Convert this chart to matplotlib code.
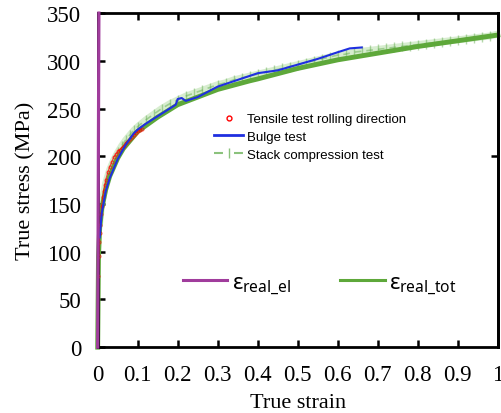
import matplotlib
matplotlib.use('Agg')
import matplotlib.pyplot as plt
from matplotlib.lines import Line2D

plt.rcParams['font.family'] = ['Liberation Serif', 'DejaVu Serif']
plt.rcParams['mathtext.fontset'] = 'custom'
plt.rcParams['mathtext.rm'] = 'Noto Sans'
plt.rcParams['mathtext.it'] = 'Noto Sans'

# elastic line
el_strain = [0, 0.003]
el_stress = [0, 350]

# total true stress-strain fit
tot_strain = [0, 0.002, 0.005, 0.01, 0.02, 0.03, 0.05, 0.064, 0.1, 0.15, 0.2, 0.25, 0.3,
              0.38, 0.4, 0.5, 0.6, 0.7, 0.8, 0.9, 1.0]
tot_stress = [0, 95, 125, 145, 165, 179, 198, 208, 226, 241, 254, 262, 270,
              279, 281, 292, 301, 308, 315, 321, 327]

# tensile test rolling direction
ten_strain = [0.002, 0.003, 0.004, 0.005, 0.006, 0.008, 0.01, 0.0125, 0.015, 0.0175, 0.02,
              0.025, 0.03, 0.035, 0.04, 0.045, 0.05, 0.055, 0.06, 0.065, 0.07, 0.075,
              0.08, 0.085, 0.09, 0.095, 0.1, 0.105, 0.11]
ten_stress = [75, 95, 110, 120, 128, 140, 148, 157, 164, 170, 175, 183, 189, 194, 199,
              202, 205, 207, 209, 211, 214, 216, 218, 220, 222, 224, 226, 227, 229]

# bulge test
bul_strain = [0.005, 0.01, 0.02, 0.03, 0.05, 0.07, 0.09, 0.1, 0.12, 0.15, 0.18, 0.195,
              0.2, 0.21, 0.22, 0.25, 0.3, 0.35, 0.4, 0.45, 0.5, 0.55, 0.6, 0.63, 0.66]
bul_stress = [115, 140, 163, 177, 197, 212, 224, 228, 234, 242, 250, 254,
              260, 261, 258, 262, 273, 280, 287, 290, 296, 302, 309, 313, 314]

# stack compression test
stk_strain = [0.005, 0.01, 0.02, 0.03, 0.04, 0.05, 0.06, 0.07, 0.08, 0.09, 0.1, 0.12,
              0.14, 0.16, 0.18, 0.2, 0.22, 0.24, 0.26, 0.28, 0.3, 0.32, 0.34, 0.36, 0.38,
              0.4, 0.42, 0.44, 0.46, 0.48, 0.5, 0.52, 0.54, 0.56, 0.58, 0.6, 0.62, 0.64,
              0.66, 0.68, 0.7, 0.72, 0.74, 0.76, 0.78, 0.8, 0.82, 0.84, 0.86, 0.88, 0.9,
              0.92, 0.94, 0.96, 0.98, 1.0]
stk_stress = [130, 150, 172, 186, 196, 204, 211, 217, 222, 227, 231, 238,
              244, 250, 255, 259, 263, 266, 269, 272, 275, 277, 280, 282, 284,
              286, 288, 290, 292, 294, 296, 298, 300, 302, 304, 306, 307, 309,
              310, 311, 312, 313, 314, 315, 316, 317, 318, 319, 320, 321, 322,
              323, 324, 325, 326, 328]

fig = plt.figure(figsize=(5.02, 4.14), dpi=100)
ax = fig.add_axes([0.1946, 0.159, 0.797, 0.807])

ax.plot(stk_strain, stk_stress, color='#7cc463', lw=5, alpha=0.3, zorder=1)
ax.plot(stk_strain, stk_stress, color='#5aa845', ls=(0, (4, 3)), lw=1.2,
        marker='|', ms=7, mew=1, alpha=0.45, zorder=1.5)
ax.plot(tot_strain, tot_stress, color='#5ea83a', lw=3.5, zorder=2, clip_on=False)
ax.plot(ten_strain, ten_stress, color='red', lw=0.8, alpha=0.7, marker='o', ms=2.2,
        mfc='none', mec='red', mew=0.7, zorder=3)
ax.plot(bul_strain, bul_stress, color='#1f2fe0', lw=1.5, zorder=4)
ax.plot(el_strain, el_stress, color='#a03c9c', lw=2.3, zorder=5, clip_on=False)

ax.set_xlim(0, 1)
ax.set_ylim(0, 350)
ax.set_xticks([i / 10 for i in range(11)])
ax.set_xticklabels(['0', '0.1', '0.2', '0.3', '0.4', '0.5', '0.6', '0.7', '0.8', '0.9', '1'])
ax.set_yticks(range(0, 351, 50))
ax.tick_params(axis='both', direction='in', length=5, width=1.8, labelsize=16.5,
               pad=12, top=True)
for s in ax.spines.values():
    s.set_linewidth(2)

sec = ax.secondary_yaxis('right')
sec.set_yticks([200])
sec.set_yticklabels([])
sec.tick_params(direction='in', length=5, width=1.8)
sec.spines['right'].set_linewidth(2)

ax.set_xlabel('True strain', fontsize=16, labelpad=6)
ax.set_ylabel('True stress (MPa)', fontsize=16, labelpad=8)

# legend handles
h_ten = Line2D([], [], ls='none', marker='o', ms=3.5, mfc='none', mec='red', mew=1)
h_bul = Line2D([], [], color='#1f2fe0', lw=2)
h_stk = Line2D([], [], color='#5aa845', ls=(0, (4.3, 5.3)), lw=1.5, marker='|', ms=7,
               alpha=0.7)
h_el = Line2D([], [], color='#a03c9c', lw=2.2)
h_tot = Line2D([], [], color='#5ea83a', lw=2.2)

leg1 = ax.legend([h_ten, h_bul, h_stk],
                 ['Tensile test rolling direction', 'Bulge test', 'Stack compression test'],
                 loc='upper left',
                 bbox_to_anchor=(214 / 502, 1 - 114 / 414), bbox_transform=fig.transFigure,
                 frameon=False, borderpad=0, borderaxespad=0, numpoints=1,
                 handlelength=2.2, handletextpad=0.3, labelspacing=0.42,
                 prop={'family': ['Liberation Sans Narrow', 'Liberation Sans'], 'size': 9.5})
ax.add_artist(leg1)

ax.legend([h_el, h_tot],
          [r'$\varepsilon_{\mathrm{real\_el}}$', r'$\varepsilon_{\mathrm{real\_tot}}$'],
          loc='center left', ncol=2,
          bbox_to_anchor=(183 / 502, 1 - 285 / 414), bbox_transform=fig.transFigure,
          frameon=False, borderpad=0, borderaxespad=0,
          handlelength=2.0, handletextpad=0.22, columnspacing=2.2, fontsize=16)

fig.savefig('out.png', dpi=100)
